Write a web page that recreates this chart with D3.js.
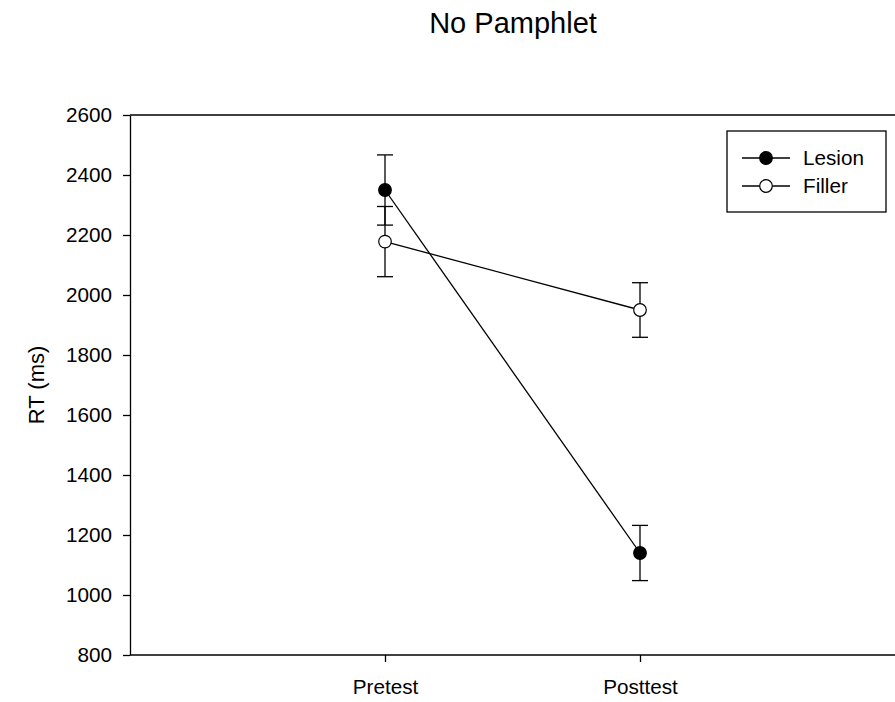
<!DOCTYPE html>
<html>
<head>
<meta charset="utf-8">
<script src="https://cdn.jsdelivr.net/npm/d3@7"></script>
<style>
  body { margin: 0; background: #fff; }
  svg { font-family: "Liberation Sans", Arial, sans-serif; }
  .axis path, .axis line { stroke: #000; stroke-width: 1.3; }
  .axis text { font-size: 20.7px; fill: #000; }
</style>
</head>
<body>
<svg width="895" height="702"></svg>
<script>
var categories = ["Pretest", "Posttest"];
var lesion = [2350, 1140];
var lesionErr = [117, 92];
var filler = [2178, 1950];
var fillerErr = [117, 91];
var yTicks = [800, 1000, 1200, 1400, 1600, 1800, 2000, 2200, 2400, 2600];

var series = [
    { name: "Lesion", values: lesion, errs: lesionErr, fill: "#000" },
    { name: "Filler", values: filler, errs: fillerErr, fill: "#fff" }
];

var svg = d3.select("svg"),
    margin = { top: 115, left: 130, bottom: 47 },
    width = +svg.attr("width"),
    height = +svg.attr("height");

var x = d3.scalePoint()
    .domain(categories)
    .range([margin.left, width])
    .padding(1);

var y = d3.scaleLinear()
    .domain([800, 2600])
    .range([height - margin.bottom, margin.top]);

// frame (top line runs off the right edge)
svg.append("path")
    .attr("d", "M" + margin.left + "," + y(2600) + "H" + (width + 5))
    .attr("stroke", "#000")
    .attr("stroke-width", 1.3)
    .attr("fill", "none");

svg.append("g")
    .attr("class", "axis")
    .attr("transform", "translate(" + margin.left + ",0)")
    .call(d3.axisLeft(y).tickValues(yTicks).tickFormat(d3.format("d"))
        .tickSize(7).tickPadding(11).tickSizeOuter(0));

svg.append("g")
    .attr("class", "axis")
    .attr("transform", "translate(0," + y(800) + ")")
    .call(d3.axisBottom(x).tickSize(7).tickPadding(17).tickSizeOuter(0))
    .select(".domain")
    .attr("d", "M" + margin.left + ",0H" + (width + 5));

// error bars
series.forEach(function (s) {
    var g = svg.append("g").attr("stroke", "#000").attr("stroke-width", 1.3);
    categories.forEach(function (c, i) {
        var cx = x(c),
            hi = y(s.values[i] + s.errs[i]),
            lo = y(s.values[i] - s.errs[i]);
        g.append("line").attr("x1", cx).attr("x2", cx).attr("y1", hi).attr("y2", lo);
        g.append("line").attr("x1", cx - 8).attr("x2", cx + 8).attr("y1", hi).attr("y2", hi);
        g.append("line").attr("x1", cx - 8).attr("x2", cx + 8).attr("y1", lo).attr("y2", lo);
    });
});

var line = d3.line()
    .x(function (d, i) { return x(categories[i]); })
    .y(function (d) { return y(d); });

series.forEach(function (s) {
    svg.append("path")
        .datum(s.values)
        .attr("d", line)
        .attr("fill", "none")
        .attr("stroke", "#000")
        .attr("stroke-width", 1.3);
});

series.forEach(function (s) {
    svg.append("g")
        .selectAll("circle")
        .data(s.values)
        .enter()
            .append("circle")
            .attr("cx", function (d, i) { return x(categories[i]); })
            .attr("cy", function (d) { return y(d); })
            .attr("r", 6.3)
            .attr("fill", s.fill)
            .attr("stroke", "#000")
            .attr("stroke-width", 1.2);
});

// legend
var legend = svg.append("g");
legend.append("rect")
    .attr("x", 727).attr("y", 131)
    .attr("width", 159).attr("height", 81)
    .attr("fill", "#fff")
    .attr("stroke", "#000")
    .attr("stroke-width", 1.3);

series.forEach(function (s, i) {
    var ly = 158 + i * 28;
    legend.append("line")
        .attr("x1", 742).attr("x2", 790).attr("y1", ly).attr("y2", ly)
        .attr("stroke", "#000").attr("stroke-width", 1.3);
    legend.append("circle")
        .attr("cx", 766).attr("cy", ly).attr("r", 6.3)
        .attr("fill", s.fill).attr("stroke", "#000").attr("stroke-width", 1.2);
    legend.append("text")
        .attr("x", 803).attr("y", ly).attr("dy", "0.36em")
        .attr("font-size", 20.7)
        .text(s.name);
});

// title and y label
svg.append("text")
    .attr("x", 513).attr("y", 33)
    .attr("text-anchor", "middle")
    .attr("font-size", 29)
    .text("No Pamphlet");

svg.append("text")
    .attr("transform", "translate(44," + (y(1700)) + ") rotate(-90)")
    .attr("text-anchor", "middle")
    .attr("font-size", 22)
    .text("RT (ms)");
</script>
</body>
</html>
